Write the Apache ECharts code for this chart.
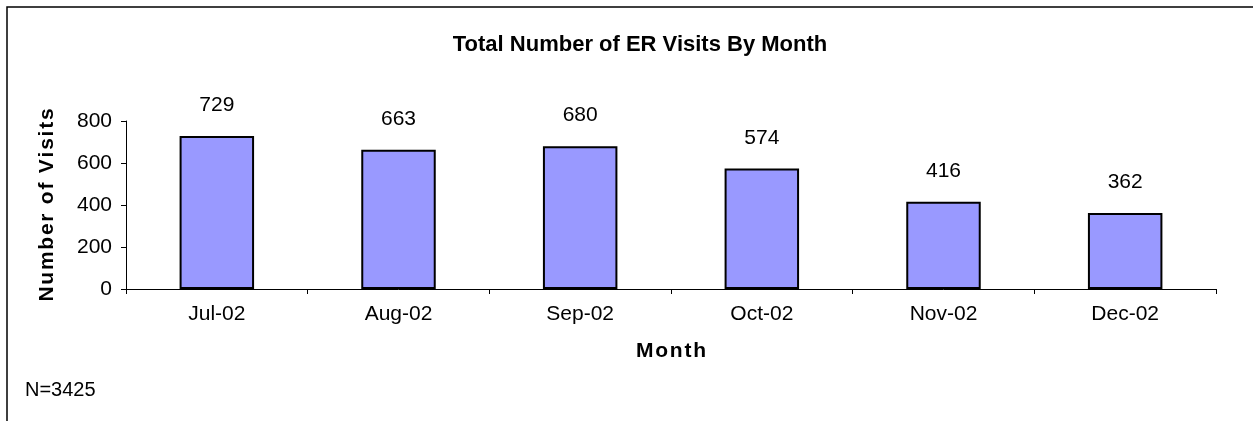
<!DOCTYPE html>
<html>
<head>
<meta charset="utf-8">
<script src="https://cdn.jsdelivr.net/npm/echarts@6/dist/echarts.min.js"></script>
<style>
  html, body { margin: 0; padding: 0; background: #fff; }
  #chart { width: 1253px; height: 421px; }
</style>
</head>
<body>
<div id="chart"></div>
<script>
// ER visits per month
const months = ["Jul-02", "Aug-02", "Sep-02", "Oct-02", "Nov-02", "Dec-02"];
const visits = [729, 663, 680, 574, 416, 362];
const totalNote = "N=3425";

const font = "Liberation Sans, Arial, sans-serif";
// the old excel export spaces the bold titles out a bit
const spaced = s => s.split("").join("\u200a");

const chart = echarts.init(document.getElementById("chart"));

chart.setOption({
    animation: false,
    backgroundColor: "#ffffff",
    title: {
        text: "Total Number of ER Visits By Month",
        left: 635,
        textAlign: "center",
        top: 29,
        textStyle: { fontFamily: font, fontSize: 22, fontWeight: "bold", color: "#000" }
    },
    grid: { left: 126, right: 37, top: 121, bottom: 132 },
    xAxis: {
        type: "category",
        data: months,
        name: spaced("Month"),
        nameLocation: "middle",
        nameGap: 52,
        nameTextStyle: { fontFamily: font, fontSize: 21, fontWeight: "bold", color: "#000" },
        axisLine: { lineStyle: { color: "#000", width: 1 } },
        axisTick: { show: true, length: 5, lineStyle: { color: "#000" } },
        axisLabel: { fontFamily: font, fontSize: 21, color: "#000", margin: 15 }
    },
    yAxis: {
        type: "value",
        min: 0,
        max: 800,
        interval: 200,
        name: spaced("Number of Visits"),
        nameLocation: "middle",
        nameGap: 68,
        nameTextStyle: { fontFamily: font, fontSize: 21, fontWeight: "bold", color: "#000" },
        axisLine: { show: true, lineStyle: { color: "#000", width: 1 } },
        axisTick: { show: true, length: 5, lineStyle: { color: "#000" } },
        splitLine: { show: false },
        axisLabel: { fontFamily: font, fontSize: 21, color: "#000", margin: 14 }
    },
    series: [{
        type: "bar",
        data: visits,
        barWidth: "41%",
        itemStyle: { color: "#9999ff", borderColor: "#000", borderWidth: 2 },
        label: {
            show: true,
            position: "top",
            distance: 20,
            fontFamily: font,
            fontSize: 21,
            color: "#000"
        }
    }],
    graphic: [
        {
            type: "rect",
            shape: { x: 7, y: 7, width: 1270, height: 430 },
            style: { fill: null, stroke: "#000", lineWidth: 1.5 },
            silent: true
        },
        {
            type: "text",
            left: 25,
            top: 380,
            style: { text: totalNote, fontFamily: font, fontSize: 20, fill: "#000" }
        }
    ]
});
</script>
</body>
</html>
